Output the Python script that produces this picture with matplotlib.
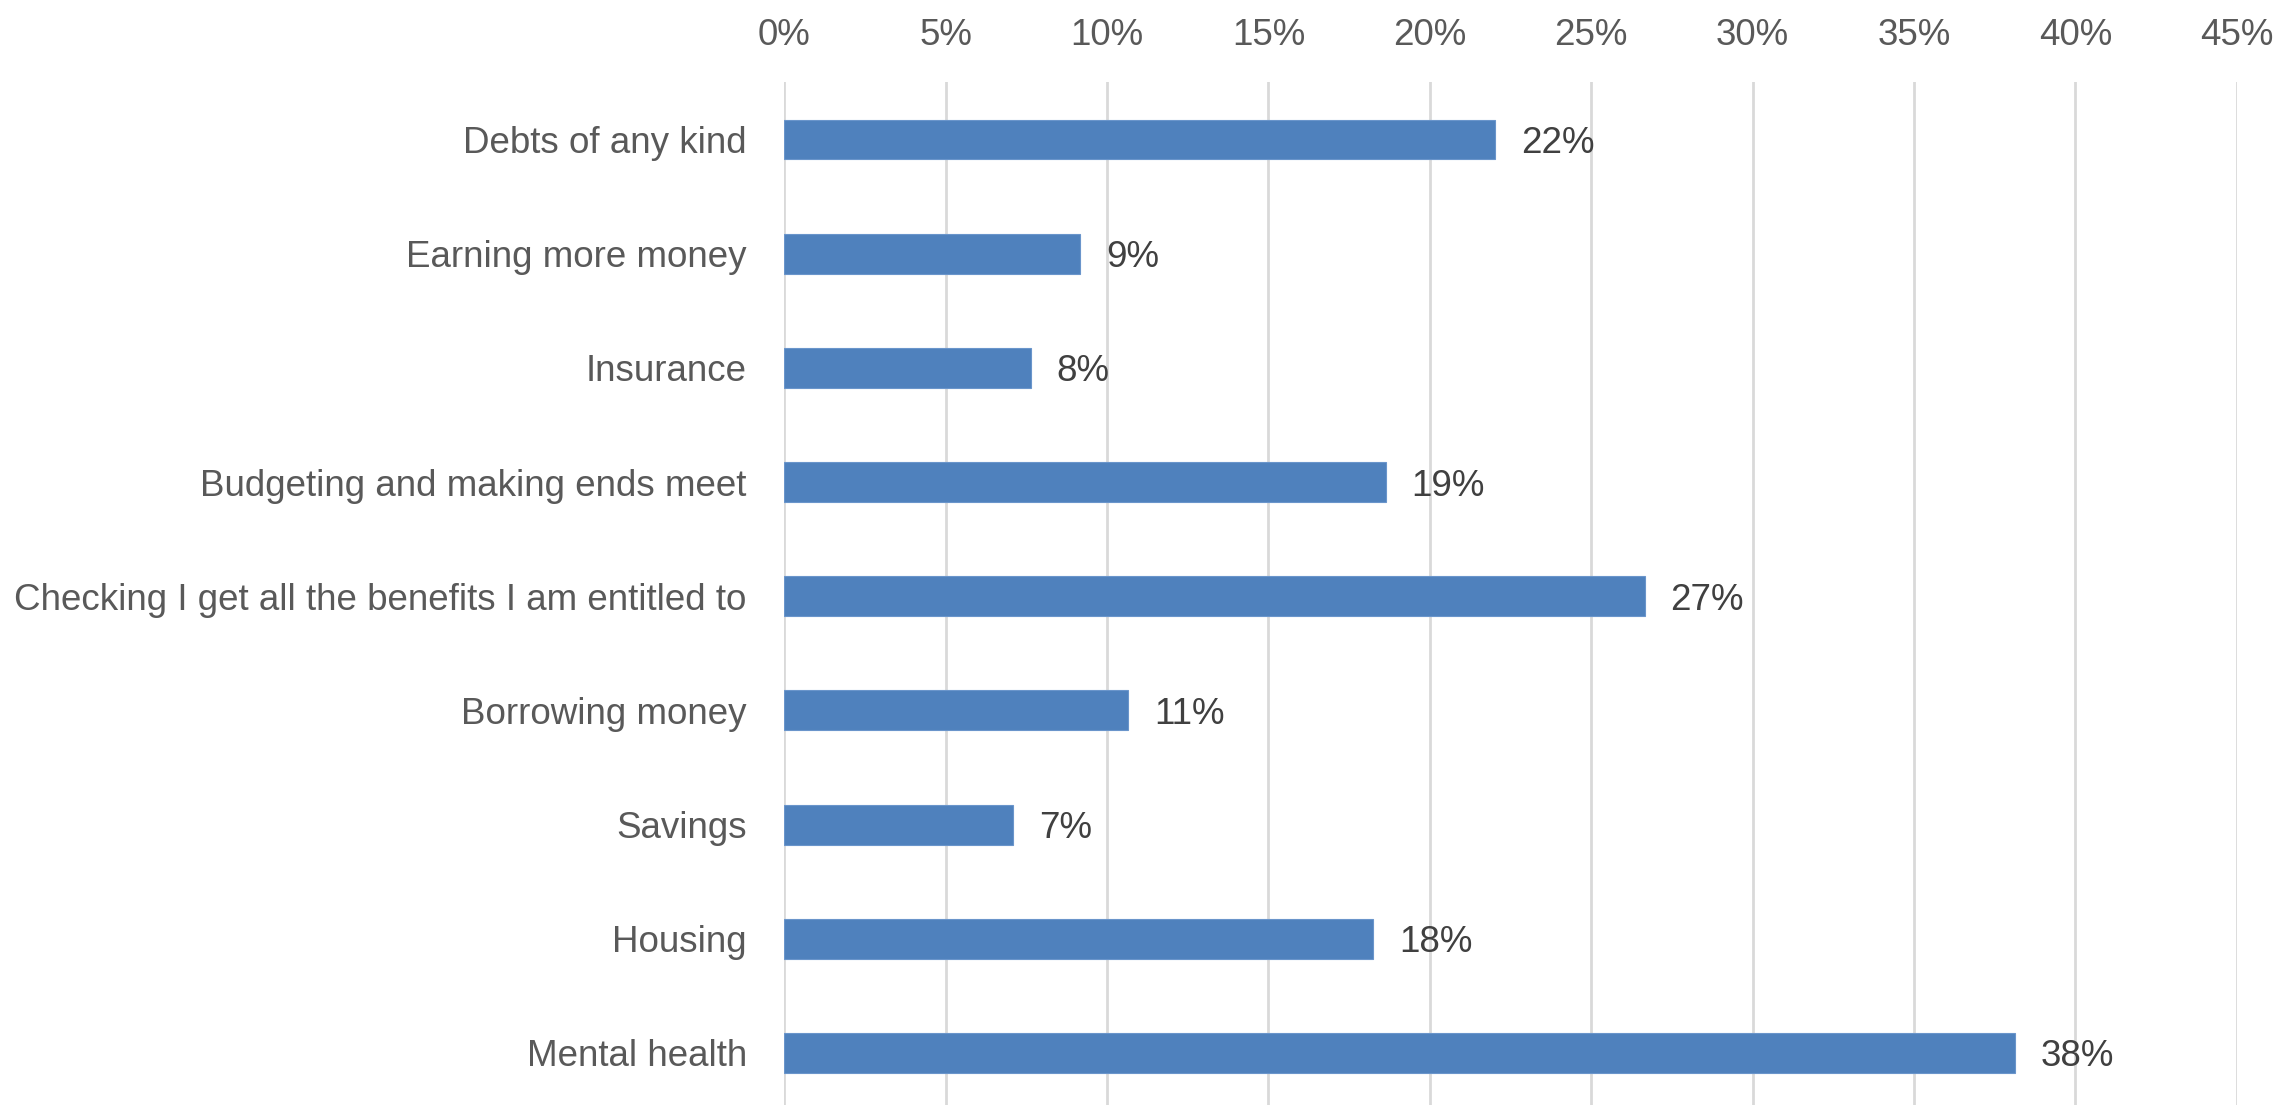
import matplotlib
matplotlib.use('Agg')
import matplotlib.pyplot as plt
from matplotlib.ticker import PercentFormatter
from matplotlib import font_manager

# 数据（自上而下）
categories = [
    'Debts of any kind',
    'Earning more money',
    'Insurance',
    'Budgeting and making ends meet',
    'Checking I get all the benefits I am entitled to',
    'Borrowing money',
    'Savings',
    'Housing',
    'Mental health',
]
shares = [0.2202, 0.0917, 0.0764, 0.1864, 0.2666, 0.1066, 0.0710, 0.1824, 0.3814]
x_ticks = [0.0, 0.05, 0.10, 0.15, 0.20, 0.25, 0.30, 0.35, 0.40, 0.45]

# 字体：优先窄体
names = {f.name for f in font_manager.fontManager.ttflist}
family = 'Liberation Sans Narrow' if 'Liberation Sans Narrow' in names else 'Liberation Sans'
plt.rcParams['font.family'] = [family, 'DejaVu Sans']

BAR_COLOR = '#4F81BD'
GRID_COLOR = '#D9D9D9'
LABEL_COLOR = '#595959'
VALUE_COLOR = '#404040'
FS = 26.5

fig = plt.figure(figsize=(22.8, 11.05), dpi=100)
ax = fig.add_axes([0.3440, -0.0045, 0.6370, 0.9299])

ypos = list(range(len(categories)))
ax.barh(ypos, shares, height=0.35, color=BAR_COLOR, edgecolor='#6A95CB', linewidth=0.8, zorder=3)

# 数值标签
for y, v in zip(ypos, shares):
    ax.text(v + 0.008, y, f'{v:.0%}', va='center_baseline', ha='left',
            fontsize=FS, color=VALUE_COLOR, zorder=4)

ax.set_xlim(0, 0.45)
ax.set_ylim(len(categories) - 0.5, -0.5)
ax.set_xticks(x_ticks)
ax.xaxis.set_major_formatter(PercentFormatter(1.0, decimals=0))
ax.xaxis.tick_top()
ax.set_yticks(ypos)
ax.set_yticklabels(categories)

ax.tick_params(axis='x', length=0, pad=21, labelsize=FS, labelcolor=LABEL_COLOR)
ax.tick_params(axis='y', length=0, pad=27, labelsize=FS, labelcolor=LABEL_COLOR)

ax.grid(axis='x', color=GRID_COLOR, linewidth=2, zorder=0)
ax.grid(axis='y', visible=False)
for s in ax.spines.values():
    s.set_visible(False)

fig.savefig('out.png', dpi=100, facecolor='white')
